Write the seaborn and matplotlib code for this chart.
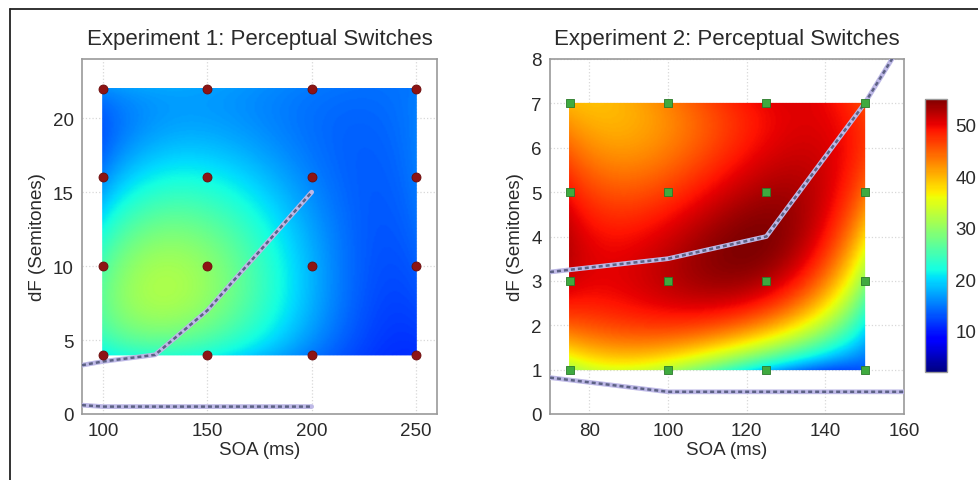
import numpy as np
import pandas as pd
import matplotlib
matplotlib.use("Agg")
import matplotlib.pyplot as plt
from matplotlib.lines import Line2D
import seaborn as sns

# ---------------- data ----------------
exp1_soa = [100, 150, 200, 250]
exp1_df = [4, 10, 16, 22]
# rows follow exp1_df, columns follow exp1_soa
exp1_switches = [
    [21, 22, 15, 11],
    [25.5, 29.5, 18, 13.5],
    [16, 21.5, 15.5, 15],
    [16, 17, 15, 15],
]
exp1_bound_upper_x = [90, 100, 125, 150, 200]
exp1_bound_upper_y = [3.3, 3.55, 4.0, 7.0, 15.0]
exp1_bound_lower_x = [90, 100, 200]
exp1_bound_lower_y = [0.6, 0.5, 0.5]

exp2_soa = [75, 100, 125, 150]
exp2_df = [1, 3, 5, 7]
exp2_switches = [
    [31, 32, 19, 13],
    [51, 52, 52, 30],
    [49, 47, 53, 44],
    [40, 43, 50, 46],
]
exp2_bound_upper_x = [70, 100, 125, 150, 175]
exp2_bound_upper_y = [3.2, 3.5, 4.0, 7.0, 10.6]
exp2_bound_lower_x = [70, 100, 160]
exp2_bound_lower_y = [0.82, 0.5, 0.5]

titles = ["Experiment 1: Perceptual Switches", "Experiment 2: Perceptual Switches"]
xlabel = "SOA (ms)"
ylabel = "dF (Semitones)"
cbar_ticks = [10, 20, 30, 40, 50]
vmin, vmax = 2, 55

# ---------------- style ----------------
sns.set_style("white")
plt.rcParams["font.family"] = ["Liberation Sans", "DejaVu Sans"]

W, H = 979, 481
fig = plt.figure(figsize=(W / 100, H / 100), dpi=100)
fig.patch.set_facecolor("white")


def fpos(l, t, r, b):
    return [l / W, 1 - b / H, (r - l) / W, (b - t) / H]


def lagrange(nodes, q):
    nodes = np.asarray(nodes, float)
    q = np.asarray(q, float)
    Wm = np.ones((len(q), len(nodes)))
    for i, xi in enumerate(nodes):
        for j, xj in enumerate(nodes):
            if i != j:
                Wm[:, i] *= (q - xj) / (xi - xj)
    return Wm


def surface(ax, xs, ys, Z):
    xf = np.linspace(xs[0], xs[-1], 240)
    yf = np.linspace(ys[0], ys[-1], 240)
    Zf = lagrange(ys, yf) @ np.asarray(Z, float) @ lagrange(xs, xf).T
    return ax.pcolormesh(xf, yf, Zf, cmap="jet", vmin=vmin, vmax=vmax,
                         shading="gouraud", zorder=1, rasterized=True)


def boundary(ax, x, y):
    sns.lineplot(x=x, y=y, ax=ax, sort=False, color="#bdb8e6", linewidth=3.4,
                 legend=False, zorder=3)
    sns.lineplot(x=x, y=y, ax=ax, sort=False, color="#5d6285", linewidth=1.8,
                 linestyle=(0, (1.6, 1.2)), legend=False, zorder=4)


def style_axes(ax, title, xlim, ylim, xticks, yticks):
    ax.set_xlim(*xlim)
    ax.set_ylim(*ylim)
    ax.set_xticks(xticks)
    ax.set_yticks(yticks)
    ax.set_title(title, fontsize=16, color="#2a2a2a", pad=11)
    ax.set_xlabel(xlabel, fontsize=13.5, color="#2a2a2a", labelpad=1)
    ax.set_ylabel(ylabel, fontsize=13.5, color="#2a2a2a", labelpad=5)
    ax.tick_params(direction="in", length=4, width=0.8, color="#888888",
                   labelsize=13.5, labelcolor="#2a2a2a", pad=6)
    for s in ax.spines.values():
        s.set_color("#9a9a9a")
        s.set_linewidth(1.2)
    ax.grid(True, color="#d8d8d8", linestyle=":", linewidth=0.9)
    ax.set_axisbelow(True)


# ---------------- Experiment 1 ----------------
ax1 = fig.add_axes(fpos(82, 60, 437, 415))
surface(ax1, exp1_soa, exp1_df, exp1_switches)
boundary(ax1, exp1_bound_upper_x, exp1_bound_upper_y)
boundary(ax1, exp1_bound_lower_x, exp1_bound_lower_y)
g1 = pd.DataFrame([(x, y) for y in exp1_df for x in exp1_soa], columns=["soa", "df"])
sns.scatterplot(data=g1, x="soa", y="df", ax=ax1, marker="o", s=42,
                color="#8e1414", edgecolor="#6a0c0c", linewidth=0.6,
                zorder=5, legend=False, clip_on=False)
style_axes(ax1, titles[0], (90, 260), (0, 24), [100, 150, 200, 250], [0, 5, 10, 15, 20])

# ---------------- Experiment 2 ----------------
ax2 = fig.add_axes(fpos(550, 60, 904, 415))
mesh = surface(ax2, exp2_soa, exp2_df, exp2_switches)
boundary(ax2, exp2_bound_upper_x, exp2_bound_upper_y)
boundary(ax2, exp2_bound_lower_x, exp2_bound_lower_y)
g2 = pd.DataFrame([(x, y) for y in exp2_df for x in exp2_soa], columns=["soa", "df"])
sns.scatterplot(data=g2, x="soa", y="df", ax=ax2, marker="s", s=34,
                color="#3faa3f", edgecolor="#2a7a2a", linewidth=0.6,
                zorder=5, legend=False, clip_on=False)
style_axes(ax2, titles[1], (70, 160), (0, 8), [80, 100, 120, 140, 160], list(range(9)))

# ---------------- colorbar ----------------
cax = fig.add_axes(fpos(925, 100, 947, 373))
cb = fig.colorbar(mesh, cax=cax, ticks=cbar_ticks)
cb.outline.set_edgecolor("#9a9a9a")
cb.outline.set_linewidth(1.0)
cax.tick_params(direction="in", length=3, width=0.8, color="#888888",
                labelsize=13.5, labelcolor="#2a2a2a", pad=6)

# ---------------- figure frame (top & left edges) ----------------
fig.add_artist(Line2D([10 / W, 10 / W], [0, 1 - 10 / H], transform=fig.transFigure,
                      color="#222222", linewidth=1.3))
fig.add_artist(Line2D([10 / W, 1], [1 - 10 / H, 1 - 10 / H], transform=fig.transFigure,
                      color="#222222", linewidth=1.3))

fig.savefig("out.png", dpi=100, facecolor="white")
